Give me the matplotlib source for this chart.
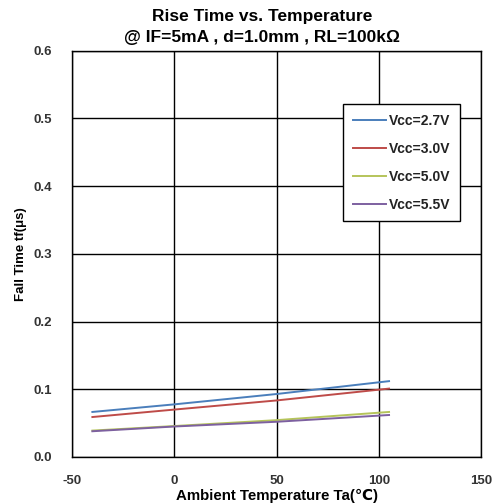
import matplotlib
matplotlib.use("Agg")
import matplotlib.pyplot as plt

temps = [-40, 0, 50, 105]
vcc_labels = ["Vcc=2.7V", "Vcc=3.0V", "Vcc=5.0V", "Vcc=5.5V"]
fall_27 = [0.0665, 0.0777, 0.093, 0.112]
fall_30 = [0.059, 0.070, 0.0835, 0.101]
fall_50 = [0.039, 0.0457, 0.0544, 0.0665]
fall_55 = [0.038, 0.045, 0.052, 0.062]
colors = ["#4a7ebb", "#be4b48", "#b5c45a", "#7d60a0"]

plt.rcParams["font.family"] = ["Liberation Sans", "DejaVu Sans"]
plt.rcParams["axes.unicode_minus"] = False

fig = plt.figure(figsize=(4.96, 5.04), dpi=100)
ax = fig.add_axes([0.145, 0.0933, 0.825, 0.806])

for ys, lab, c in zip([fall_27, fall_30, fall_50, fall_55], vcc_labels, colors):
    ax.plot(temps, ys, color=c, lw=1.4, label=lab)

ax.set_xlim(-50, 150)
ax.set_ylim(0, 0.6)
ax.set_xticks([-50, 0, 50, 100, 150])
ax.set_yticks([0.0, 0.1, 0.2, 0.3, 0.4, 0.5, 0.6])
ax.set_yticklabels(["0.0", "0.1", "0.2", "0.3", "0.4", "0.5", "0.6"])
ax.grid(True, color="black", lw=1)
ax.tick_params(axis="y", pad=14)
ax.tick_params(axis="x", pad=13)
ax.tick_params(length=0, labelsize=9.5, colors="#333333")
for lbl in ax.get_xticklabels() + ax.get_yticklabels():
    lbl.set_fontweight("bold")
for s in ax.spines.values():
    s.set_linewidth(1)

ax.set_xlabel("Ambient Temperature Ta(℃)", fontsize=10.8, fontweight="bold", labelpad=1)
ax.set_ylabel("Fall Time tf(μs)", fontsize=9.5, fontweight="bold", labelpad=5)
fig.text(0.528, 0.968, "Rise Time vs. Temperature", ha="center", va="center",
         fontsize=12.5, fontweight="bold")
fig.text(0.528, 0.925, "@ IF=5mA , d=1.0mm , RL=100kΩ", ha="center", va="center",
         fontsize=12.5, fontweight="bold")

leg = ax.legend(loc="upper right", bbox_to_anchor=(0.949, 0.868), borderaxespad=0,
                fancybox=False, edgecolor="black", framealpha=1, fontsize=10,
                handlelength=2.4, labelspacing=1.0, borderpad=0.7, handletextpad=0.2)
leg.get_frame().set_linewidth(1)
for t in leg.get_texts():
    t.set_fontweight("bold")
    t.set_color("#222222")

fig.savefig("out.png", dpi=100)
